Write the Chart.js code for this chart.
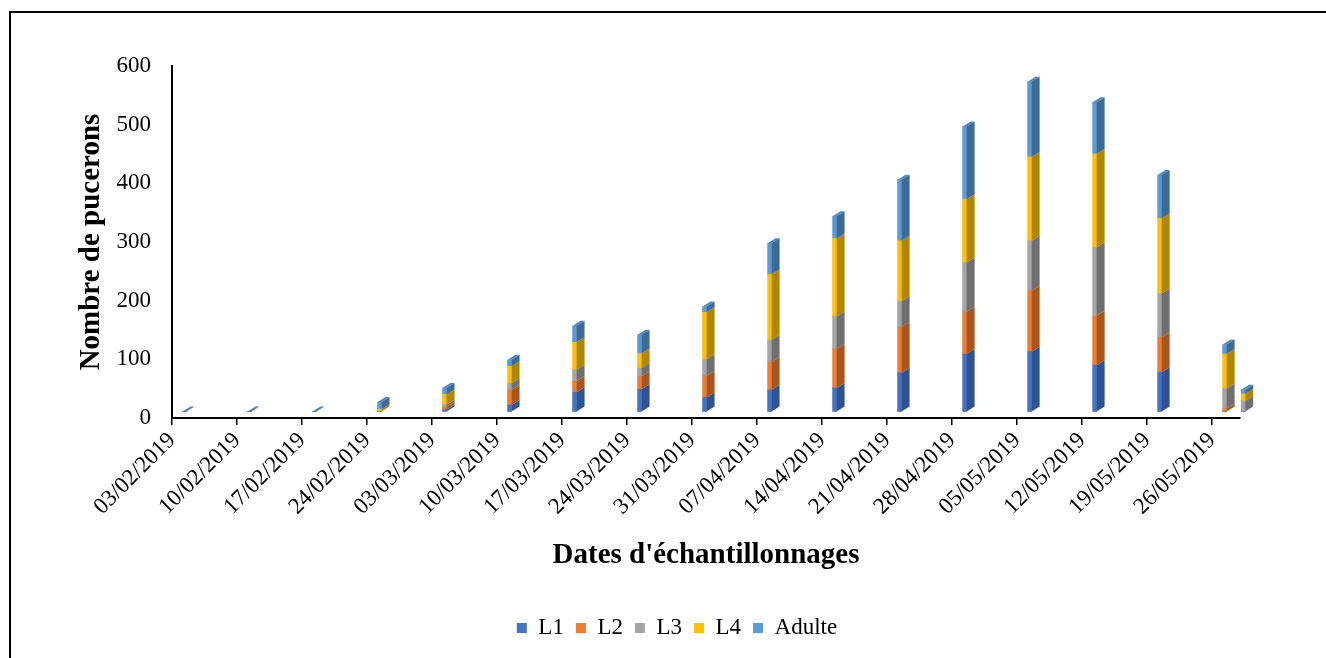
<!DOCTYPE html>
<html>
<head>
<meta charset="utf-8">
<script src="https://cdn.jsdelivr.net/npm/chart.js@4.4.1/dist/chart.umd.min.js"></script>
<style>
  html, body { margin: 0; padding: 0; background: #fff; overflow: hidden; }
  #wrap { position: relative; width: 1326px; height: 658px; }
  #frame { position: absolute; left: 9px; top: 11px; width: 1400px; height: 700px;
           border: 2px solid #000; pointer-events: none; }
</style>
</head>
<body>
<div id="wrap">
  <canvas id="chart" width="1326" height="658"></canvas>
  <div id="frame"></div>
</div>
<script>
/***********************
 * DATA
 ***********************/
const sampleDates = [
  "03/02/2019", "10/02/2019", "17/02/2019", "24/02/2019", "03/03/2019", "10/03/2019",
  "17/03/2019", "24/03/2019", "31/03/2019", "07/04/2019", "14/04/2019", "21/04/2019",
  "28/04/2019", "05/05/2019", "12/05/2019", "19/05/2019", "26/05/2019", "28/05/2019"
];
const tickLabels = [
  "03/02/2019", "10/02/2019", "17/02/2019", "24/02/2019", "03/03/2019", "10/03/2019",
  "17/03/2019", "24/03/2019", "31/03/2019", "07/04/2019", "14/04/2019", "21/04/2019",
  "28/04/2019", "05/05/2019", "12/05/2019", "19/05/2019", "26/05/2019"
];
const seriesNames = ["L1", "L2", "L3", "L4", "Adulte"];

const l1     = [0, 0, 0, 0,  3, 11, 33, 38, 24,  37,  40,  66,  98, 102,  79,  67,  0,  0];
const l2     = [0, 0, 0, 0,  5, 26, 19, 22, 37,  47,  67,  78,  72, 104,  84,  59,  5,  0];
const l3     = [0, 0, 0, 0,  4, 11, 19, 14, 28,  38,  55,  44,  84,  85, 117,  75, 34, 18];
const l4     = [0, 0, 0, 4, 17, 29, 47, 25, 80, 112, 133, 103, 108, 143, 159, 128, 59, 12];
const adulte = [0, 0, 0, 12, 11, 11, 28, 32, 10, 53,  38, 104, 124, 128,  88,  74, 16,  7];
const seriesValues = [l1, l2, l3, l4, adulte];

const frontColors = ["#4472C4", "#ED7D31", "#A5A5A5", "#FFC000", "#5B9BD5"];
const sideColors  = ["#2F5291", "#A8561E", "#6F6F6F", "#B08500", "#3D6B96"];
const topColors   = ["#3A63AD", "#C96A27", "#8C8C8C", "#D9A300", "#4C86BD"];

const FONT = "'Liberation Serif', 'Times New Roman', serif";

// days since the first sampling date (x axis is a date axis)
function dayOf(str) {
  const [d, m, y] = str.split("/").map(Number);
  return (Date.UTC(y, m - 1, d) - Date.UTC(2019, 1, 3)) / 86400000;
}
const tickDays = tickLabels.map(dayOf);

/***********************
 * 3D LOOK (side + top faces)
 ***********************/
const DX = 8, DY = 5, SHIFT_X = 12.5, SHIFT_Y = 6.5;

const bars3d = {
  id: "bars3d",
  beforeDatasetsDraw(chart) {
    chart.ctx.save();
    chart.ctx.translate(SHIFT_X, -SHIFT_Y);
  },
  afterDatasetsDraw(chart) {
    const ctx = chart.ctx;
    const metas = chart.getSortedVisibleDatasetMetas();

    metas.forEach(meta => {
      meta.data.forEach(bar => {
        const { x, y, base, width } = bar.getProps(["x", "y", "base", "width"], true);
        if (Math.abs(base - y) < 0.5) return;
        const xr = x + width / 2;
        ctx.fillStyle = sideColors[meta.index];
        ctx.beginPath();
        ctx.moveTo(xr, base);
        ctx.lineTo(xr, y);
        ctx.lineTo(xr + DX, y - DY);
        ctx.lineTo(xr + DX, base - DY);
        ctx.closePath();
        ctx.fill();
      });
    });

    const lastMeta = metas[metas.length - 1];
    lastMeta.data.forEach((bar, k) => {
      let top = seriesValues.length - 1;
      while (top > 0 && seriesValues[top][k] === 0) top--;
      if (seriesValues[top][k] === 0) top = seriesValues.length - 1;
      const { x, y, width } = bar.getProps(["x", "y", "width"], true);
      const xl = x - width / 2, xr = x + width / 2;
      ctx.fillStyle = topColors[top];
      ctx.beginPath();
      ctx.moveTo(xl, y);
      ctx.lineTo(xr, y);
      ctx.lineTo(xr + DX, y - DY);
      ctx.lineTo(xl + DX, y - DY);
      ctx.closePath();
      ctx.fill();
    });

    ctx.restore();
  }
};

/***********************
 * CHART
 ***********************/
new Chart(document.getElementById("chart"), {
  type: "bar",
  data: {
    datasets: seriesNames.map((name, i) => ({
      label: name,
      data: sampleDates.map((d, k) => ({ x: dayOf(d), y: seriesValues[i][k] })),
      backgroundColor: frontColors[i],
      borderWidth: 0,
      barThickness: 4,
      clip: false
    }))
  },
  options: {
    responsive: false,
    animation: false,
    layout: { padding: { left: 114, right: 86, top: 66, bottom: 8.5 } },
    plugins: {
      tooltip: { enabled: false },
      legend: {
        position: "bottom",
        labels: {
          boxWidth: 10,
          boxHeight: 10,
          padding: 12,
          color: "#000",
          font: { family: FONT, size: 23 }
        }
      }
    },
    scales: {
      x: {
        type: "linear",
        min: 0,
        max: 115,
        stacked: true,
        offset: false,
        afterBuildTicks(scale) {
          scale.ticks = tickDays.map(v => ({ value: v }));
        },
        afterFit(scale) { scale.height = 186.5; },
        grid: { display: true, offset: false, drawOnChartArea: false, drawTicks: true,
                tickLength: 7, color: "#000", lineWidth: 1.5 },
        border: { display: true, color: "#000", width: 2 },
        ticks: {
          autoSkip: false,
          minRotation: 45,
          maxRotation: 45,
          padding: 2,
          color: "#000",
          font: { family: FONT, size: 23 },
          callback: v => tickLabels[tickDays.indexOf(v)] ?? ""
        },
        title: {
          display: true,
          text: "Dates d'échantillonnages",
          color: "#000",
          font: { family: FONT, size: 29, weight: "bold" },
          padding: { top: 0, bottom: 32 }
        }
      },
      y: {
        min: 0,
        max: 600,
        stacked: true,
        afterFit(scale) { scale.width = 58; },
        grid: { display: false, drawTicks: false },
        border: { display: true, color: "#000", width: 2 },
        ticks: {
          stepSize: 100,
          padding: 21,
          color: "#000",
          font: { family: FONT, size: 23 }
        },
        title: {
          display: true,
          text: "Nombre de pucerons",
          color: "#000",
          font: { family: FONT, size: 29, weight: "bold" },
          padding: { top: -39.4, bottom: 0 }
        }
      }
    }
  },
  plugins: [bars3d]
});
</script>
</body>
</html>
